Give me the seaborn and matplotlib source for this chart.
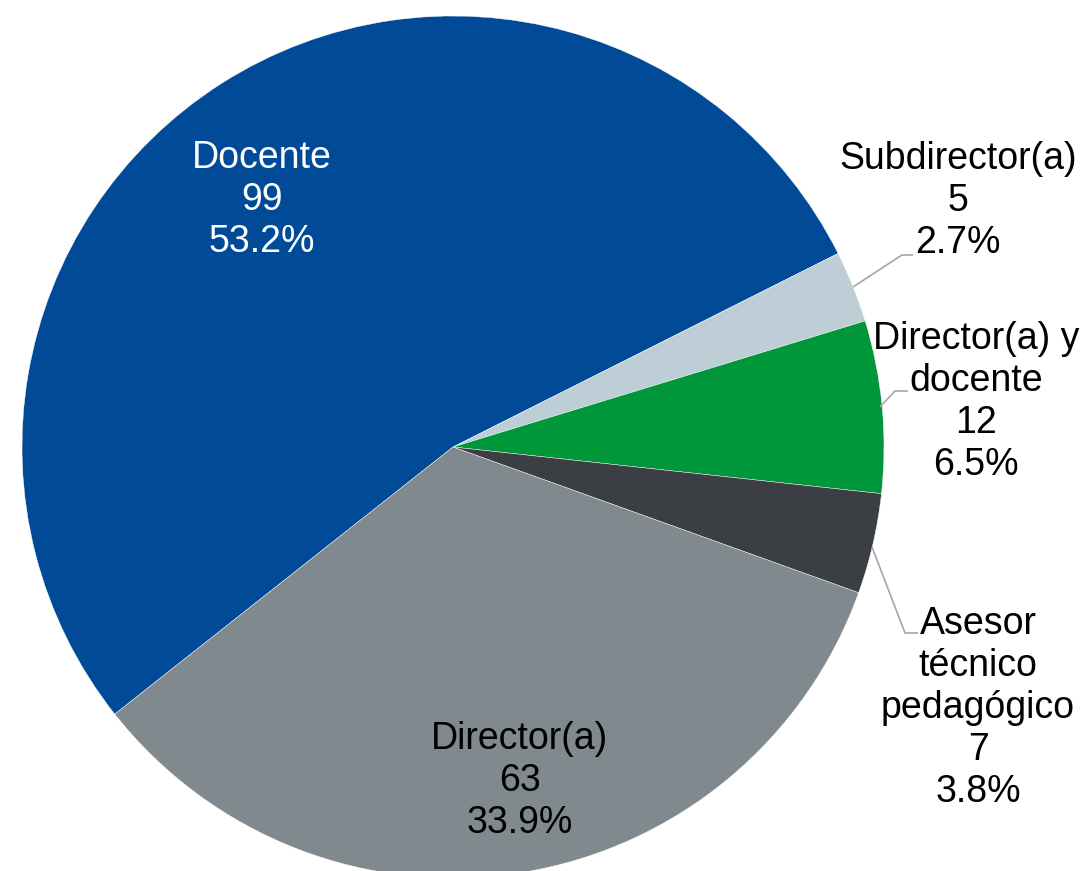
import matplotlib
matplotlib.use("Agg")
import matplotlib.pyplot as plt
import seaborn as sns

categories = ["Docente", "Subdirector(a)", "Director(a) y\ndocente", "Asesor\ntécnico\npedagógico", "Director(a)"]
counts = [99, 5, 12, 7, 63]
percents = ["53.2%", "2.7%", "6.5%", "3.8%", "33.9%"]
colors = ["#004A98", "#BDCED6", "#00963A", "#3B3F43", "#7F898E"]

sns.set_style("white")
plt.rcParams['font.family'] = ['Liberation Sans', 'DejaVu Sans']

W, H = 1087, 871
fig = plt.figure(figsize=(W / 100, H / 100), dpi=100)
ax = fig.add_axes([0, 0, 1, 1])

cx, cy, R = 453, 447, 431
def P(px, py):
    return ((px - cx) / R, (cy - py) / R)

ax.pie(counts, colors=colors, startangle=218.3, counterclock=False,
       radius=1.0, center=(0, 0),
       wedgeprops=dict(edgecolor="white", linewidth=0.3))
ax.set_xlim(-cx / R, (W - cx) / R)
ax.set_ylim(-(H - cy) / R, cy / R)
ax.set_aspect("auto")
ax.axis("off")

fs = 27
ls = 1.22
label_pos = [(262, 200), (958, 201), (976, 402), (978, 708), (520, 781)]
text_colors = ["white", "black", "black", "black", "black"]
for cat, n, p, (px, py), tc in zip(categories, counts, percents, label_pos, text_colors):
    x, y = P(px, py)
    ax.text(x, y, f"{cat}\n{n}\n{p}", ha="center", va="center", fontsize=fs,
            color=tc, linespacing=ls)

leaders = [
    [(853, 287), (902, 255), (913, 255)],
    [(880, 407), (895, 391), (908, 391)],
    [(872, 547), (905, 633), (918, 633)],
]
for pts in leaders:
    xs, ys = zip(*[P(a, b) for a, b in pts])
    ax.plot(xs, ys, color="#A6A6A6", linewidth=1.2, solid_capstyle="butt")

fig.savefig("out.png", dpi=100, facecolor="white")
